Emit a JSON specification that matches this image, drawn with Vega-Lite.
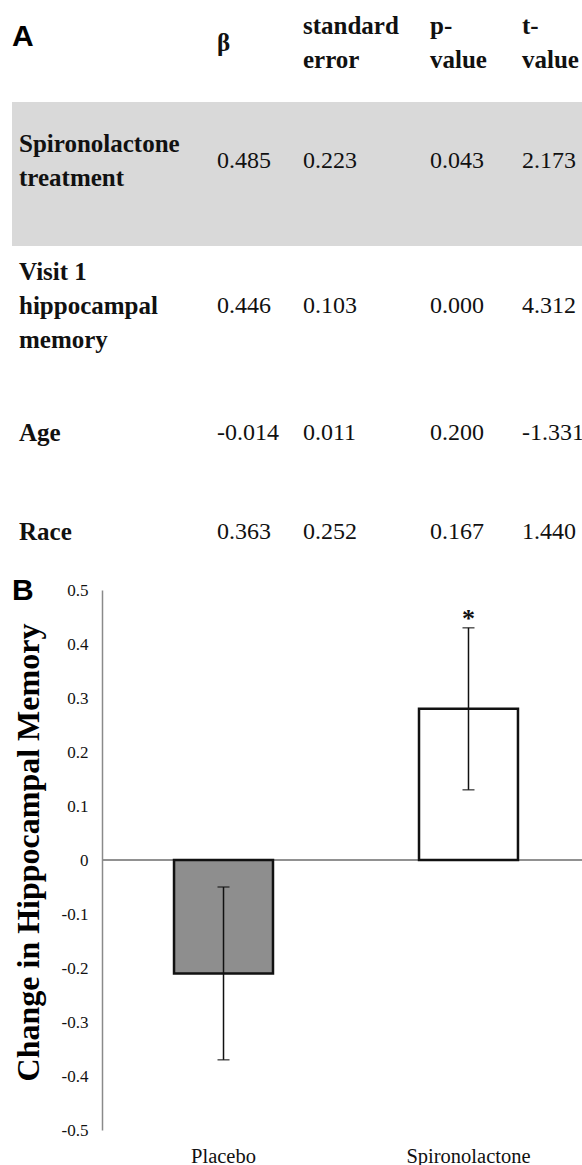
{
  "$schema": "https://vega.github.io/schema/vega-lite/v6.json",
  "background": "white",
  "padding": {"left": 11, "top": 0, "right": 0, "bottom": 0},
  "spacing": 0,
  "config": {"view": {"stroke": null}, "font": "Liberation Serif"},
  "datasets": {
    "table": [
      {"row": 0, "col": 1, "kind": "header", "text": "β"},
      {"row": 0, "col": 2, "kind": "header", "text": "standard\nerror"},
      {"row": 0, "col": 3, "kind": "header", "text": "p-\nvalue"},
      {"row": 0, "col": 4, "kind": "header", "text": "t-\nvalue"},
      {"row": 1, "col": 0, "kind": "label", "text": "Spironolactone\ntreatment"},
      {"row": 1, "col": 1, "kind": "value", "text": "0.485"},
      {"row": 1, "col": 2, "kind": "value", "text": "0.223"},
      {"row": 1, "col": 3, "kind": "value", "text": "0.043"},
      {"row": 1, "col": 4, "kind": "value", "text": "2.173"},
      {"row": 2, "col": 0, "kind": "label", "text": "Visit 1\nhippocampal\nmemory"},
      {"row": 2, "col": 1, "kind": "value", "text": "0.446"},
      {"row": 2, "col": 2, "kind": "value", "text": "0.103"},
      {"row": 2, "col": 3, "kind": "value", "text": "0.000"},
      {"row": 2, "col": 4, "kind": "value", "text": "4.312"},
      {"row": 3, "col": 0, "kind": "label", "text": "Age"},
      {"row": 3, "col": 1, "kind": "value", "text": "-0.014"},
      {"row": 3, "col": 2, "kind": "value", "text": "0.011"},
      {"row": 3, "col": 3, "kind": "value", "text": "0.200"},
      {"row": 3, "col": 4, "kind": "value", "text": "-1.331"},
      {"row": 4, "col": 0, "kind": "label", "text": "Race"},
      {"row": 4, "col": 1, "kind": "value", "text": "0.363"},
      {"row": 4, "col": 2, "kind": "value", "text": "0.252"},
      {"row": 4, "col": 3, "kind": "value", "text": "0.167"},
      {"row": 4, "col": 4, "kind": "value", "text": "1.440"}
    ],
    "highlight": [{"from": 0.5, "to": 1.5}],
    "bars": [
      {"group": "Placebo", "mean": -0.21, "lo": -0.37, "hi": -0.05, "sig": ""},
      {"group": "Spironolactone", "mean": 0.28, "lo": 0.13, "hi": 0.43, "sig": "*"}
    ]
  },
  "vconcat": [
    {
      "width": 480,
      "height": 576,
      "layer": [
        {
          "data": {"name": "highlight"},
          "mark": {"type": "rect", "color": "#d9d9d9"},
          "encoding": {
            "x": {"datum": -0.5, "type": "quantitative", "axis": null,
                  "scale": {"domain": [-0.5, 0, 1, 2, 3, 4, 4.5], "range": [-90, -83, 115, 201, 328, 420, 480], "nice": false, "zero": false}},
            "x2": {"datum": 4.5},
            "y": {"field": "from", "type": "quantitative", "axis": null,
                  "scale": {"domain": [0, 0.5, 1, 1.5, 2, 3, 4], "range": [42.5, 102, 161, 246, 305.5, 432.5, 531.5], "nice": false, "zero": false}},
            "y2": {"field": "to"}
          }
        },
        {
          "data": {"name": "table"},
          "transform": [{"filter": "datum.kind != 'value' && length(split(datum.text, '\\n')) == 1"}],
          "mark": {"type": "text", "align": "left", "baseline": "middle", "font": "Liberation Serif", "fontWeight": "bold", "fontSize": 25, "color": "#111"},
          "encoding": {
            "x": {"field": "col", "type": "quantitative", "axis": null},
            "y": {"field": "row", "type": "quantitative", "axis": null},
            "text": {"field": "text"}
          }
        },
        {
          "data": {"name": "table"},
          "transform": [{"filter": "datum.kind != 'value' && length(split(datum.text, '\\n')) == 2"}],
          "mark": {"type": "text", "align": "left", "baseline": "middle", "font": "Liberation Serif", "fontWeight": "bold", "fontSize": 25, "lineBreak": "\n", "lineHeight": 34, "dy": -17, "color": "#111"},
          "encoding": {
            "x": {"field": "col", "type": "quantitative", "axis": null},
            "y": {"field": "row", "type": "quantitative", "axis": null},
            "text": {"field": "text"}
          }
        },
        {
          "data": {"name": "table"},
          "transform": [{"filter": "datum.kind != 'value' && length(split(datum.text, '\\n')) == 3"}],
          "mark": {"type": "text", "align": "left", "baseline": "middle", "font": "Liberation Serif", "fontWeight": "bold", "fontSize": 25, "lineBreak": "\n", "lineHeight": 34, "dy": -34, "color": "#111"},
          "encoding": {
            "x": {"field": "col", "type": "quantitative", "axis": null},
            "y": {"field": "row", "type": "quantitative", "axis": null},
            "text": {"field": "text"}
          }
        },
        {
          "data": {"name": "table"},
          "transform": [{"filter": "datum.kind == 'value'"}],
          "mark": {"type": "text", "align": "left", "baseline": "middle", "font": "Liberation Serif", "fontSize": 24, "color": "#111"},
          "encoding": {
            "x": {"field": "col", "type": "quantitative", "axis": null},
            "y": {"field": "row", "type": "quantitative", "axis": null},
            "text": {"field": "text"}
          }
        },
        {
          "data": {"values": [{"panel": "A"}]},
          "mark": {"type": "text", "align": "left", "baseline": "alphabetic", "font": "Liberation Sans", "fontWeight": "bold", "fontSize": 30, "dx": -7, "dy": 3.5, "color": "#000"},
          "encoding": {
            "x": {"datum": 0, "type": "quantitative"},
            "y": {"datum": 0, "type": "quantitative"},
            "text": {"field": "panel"}
          }
        }
      ]
    },
    {
      "width": 481,
      "height": 540,
      "data": {"name": "bars"},
      "title": {"text": "B", "anchor": "start", "frame": "bounds", "font": "Liberation Sans", "fontWeight": "bold", "fontSize": 30, "color": "#000", "offset": 0, "dy": 25},
      "layer": [
        {
          "mark": {"type": "rule", "color": "#8a8a8a", "strokeWidth": 1.5},
          "encoding": {"y": {"datum": 0, "type": "quantitative"}}
        },
        {
          "mark": {"type": "bar", "stroke": "#111", "strokeWidth": 2.5},
          "encoding": {
            "x": {"field": "group", "type": "nominal", "sort": null,
                  "scale": {"range": [0, 488], "paddingInner": 0.596, "paddingOuter": 0.294},
                  "axis": {"title": null, "domain": false, "ticks": false, "labelAngle": 0, "labelFont": "Liberation Serif", "labelFontSize": 20.5, "labelColor": "#111", "labelPadding": 16}},
            "y": {"field": "mean", "type": "quantitative",
                  "scale": {"domain": [-0.5, 0.5], "nice": false},
                  "axis": {"title": "Change in Hippocampal Memory", "values": [0.5, 0.4, 0.3, 0.2, 0.1, 0, -0.1, -0.2, -0.3, -0.4, -0.5],
                           "labelExpr": "'' + datum.value", "grid": false, "ticks": false, "tickSize": 0,
                           "domainColor": "#8a8a8a", "domainWidth": 1.5,
                           "labelFont": "Liberation Serif", "labelFontSize": 17, "labelColor": "#111", "labelPadding": 14, "labelFlush": false,
                           "titleFont": "Liberation Serif", "titleFontSize": 32, "titleFontWeight": "bold", "titleColor": "#000",
                           "titleX": -64, "titleY": 262, "titleBaseline": "alphabetic"}},
            "color": {"field": "group", "type": "nominal", "scale": {"range": ["#8e8e8e", "#ffffff"]}, "legend": null}
          }
        },
        {
          "mark": {"type": "rule", "color": "#111", "strokeWidth": 1.5},
          "encoding": {
            "x": {"field": "group", "type": "nominal", "sort": null},
            "y": {"field": "lo", "type": "quantitative"},
            "y2": {"field": "hi"}
          }
        },
        {
          "mark": {"type": "tick", "color": "#111", "size": 12, "thickness": 1.5},
          "encoding": {
            "x": {"field": "group", "type": "nominal", "sort": null},
            "y": {"field": "lo", "type": "quantitative"}
          }
        },
        {
          "mark": {"type": "tick", "color": "#111", "size": 12, "thickness": 1.5},
          "encoding": {
            "x": {"field": "group", "type": "nominal", "sort": null},
            "y": {"field": "hi", "type": "quantitative"}
          }
        },
        {
          "mark": {"type": "text", "font": "Liberation Serif", "fontWeight": "bold", "fontSize": 26, "baseline": "alphabetic", "dy": -1, "color": "#111"},
          "encoding": {
            "x": {"field": "group", "type": "nominal", "sort": null},
            "y": {"field": "hi", "type": "quantitative"},
            "text": {"field": "sig"}
          }
        }
      ]
    }
  ]
}
